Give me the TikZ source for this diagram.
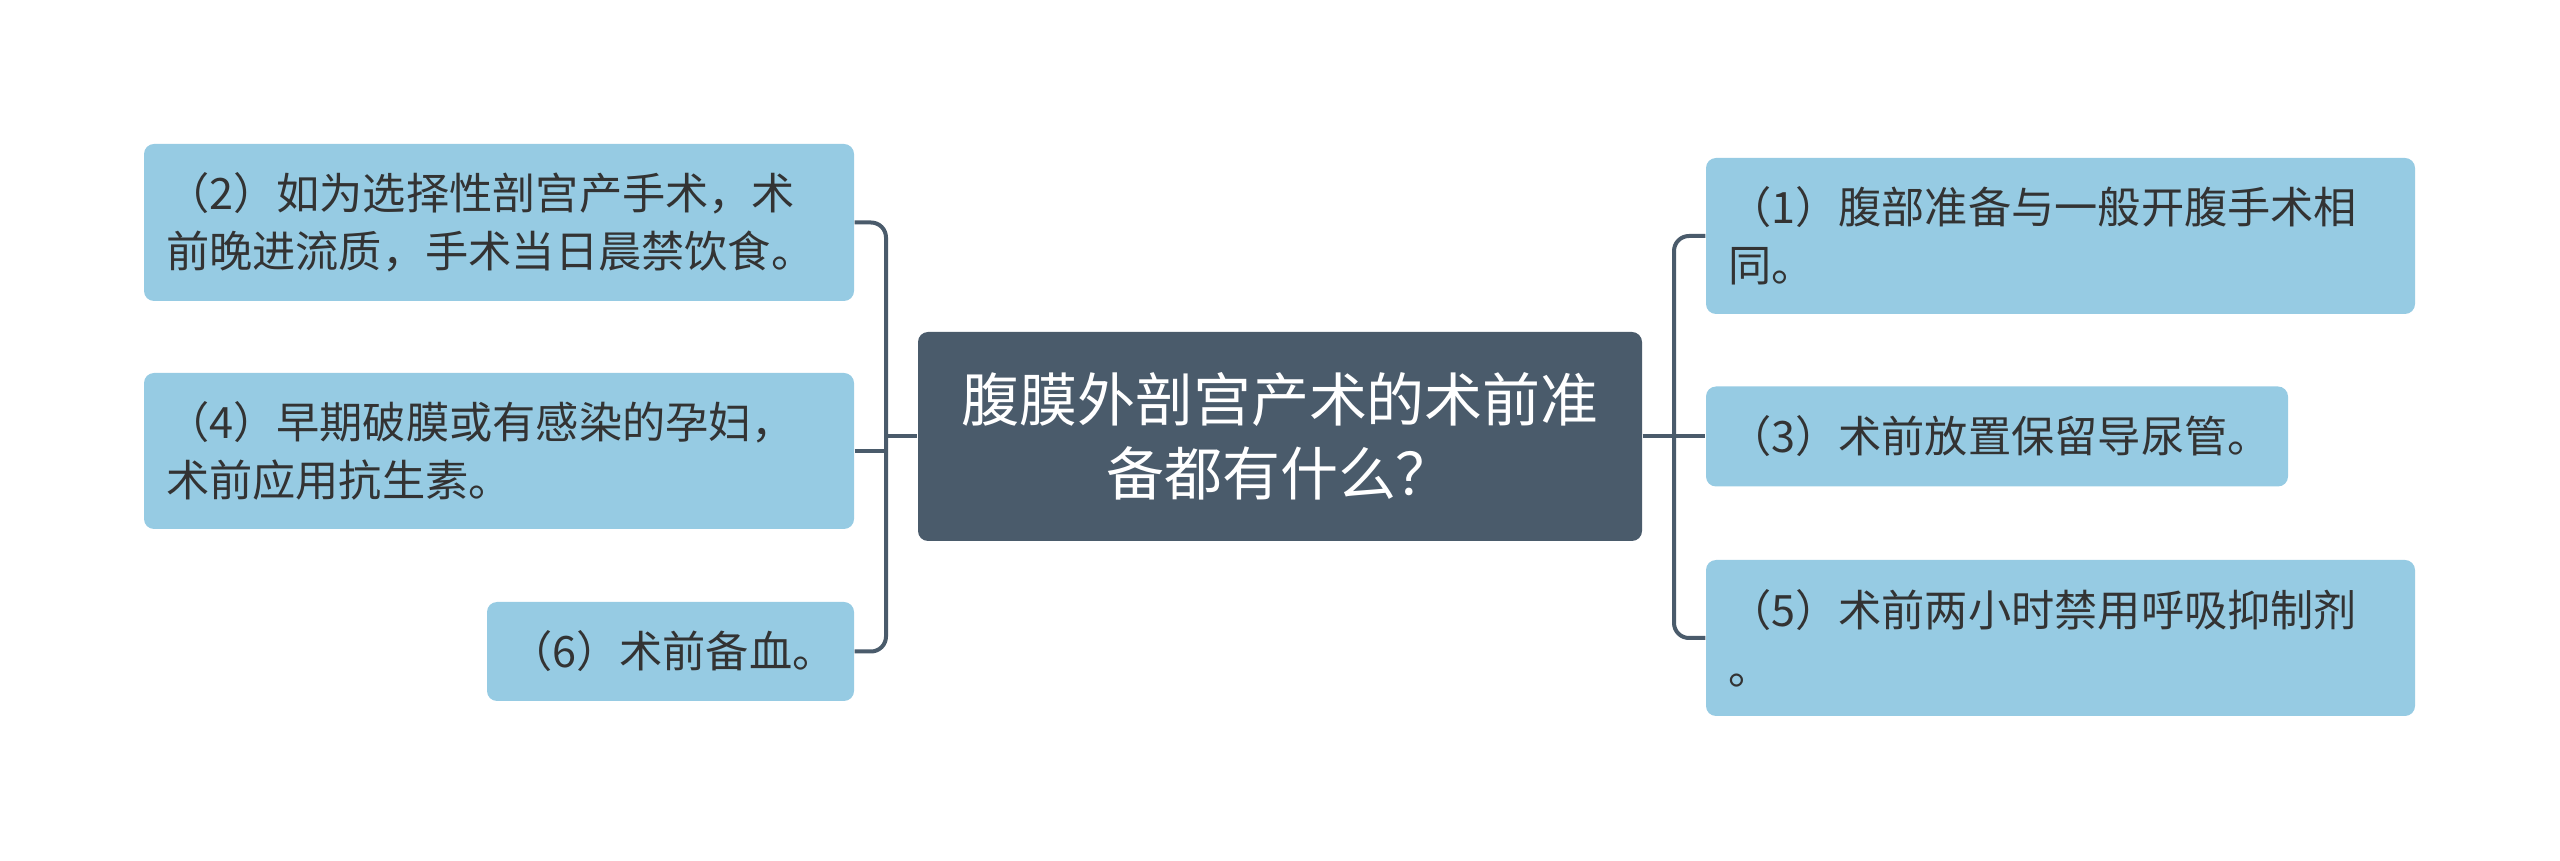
\documentclass[tikz,border=0pt]{standalone}
\usepackage{fontspec}
\setmainfont{Noto Sans CJK SC}
\usepackage{tikz}
\usepackage{xcolor}
\definecolor{boxblue}{RGB}{150,203,227}
\definecolor{slate}{RGB}{74,91,107}
\definecolor{inkdark}{RGB}{51,51,51}

\begin{document}
\begin{tikzpicture}
\tikzstyle{topic}=[rectangle,rounded corners=0.1cm,fill=slate,text=white,align=center,inner sep=0pt,minimum width=7.24cm,minimum height=2.09cm,font=\fontsize{16.5}{21}\selectfont];
\tikzstyle{leaf}=[rectangle,rounded corners=0.1cm,fill=boxblue,text=inkdark,align=left,inner xsep=0.22cm,inner ysep=0pt,font=\fontsize{12.3}{16.4}\selectfont];
\tikzstyle{link}=[draw=slate,line width=0.04cm,rounded corners=0.15cm];
\useasboundingbox (0,0) rectangle (25.6,8.6);
\node[topic](c) at (12.80,4.235) {腹膜外剖宫产术的术前准\\备都有什么？};
\node[leaf,text width=6.66cm,minimum height=1.57cm](a2) at (4.99,6.375) {（2）如为选择性剖宫产手术，术\\前晚进流质，手术当日晨禁饮食。};
\node[leaf,text width=6.66cm,minimum height=1.56cm](a4) at (4.99,4.09) {（4）早期破膜或有感染的孕妇，\\术前应用抗生素。};
\node[leaf,text width=3.23cm,minimum height=0.99cm](a6) at (6.705,2.085) {（6）术前备血。};
\node[leaf,text width=6.65cm,minimum height=1.56cm](a1) at (20.605,6.24) {（1）腹部准备与一般开腹手术相\\同。};
\node[leaf,text width=5.38cm,minimum height=1.00cm](a3) at (19.97,4.235) {（3）术前放置保留导尿管。};
\node[leaf,text width=6.65cm,minimum height=1.56cm](a5) at (20.605,2.22) {（5）术前两小时禁用呼吸抑制剂\\。};
\coordinate(lj) at (8.86,4.235);
\coordinate(rj) at (16.74,4.235);
\draw[link](a2.east)-|(lj)|-(a6.east);
\draw[link](a4.east)--(a4.east-|lj);
\draw[link](lj)--(c.west);
\draw[link](a1.west)-|(rj)|-(a5.west);
\draw[link](c.east)--(a3.west);
\end{tikzpicture}
\end{document}
